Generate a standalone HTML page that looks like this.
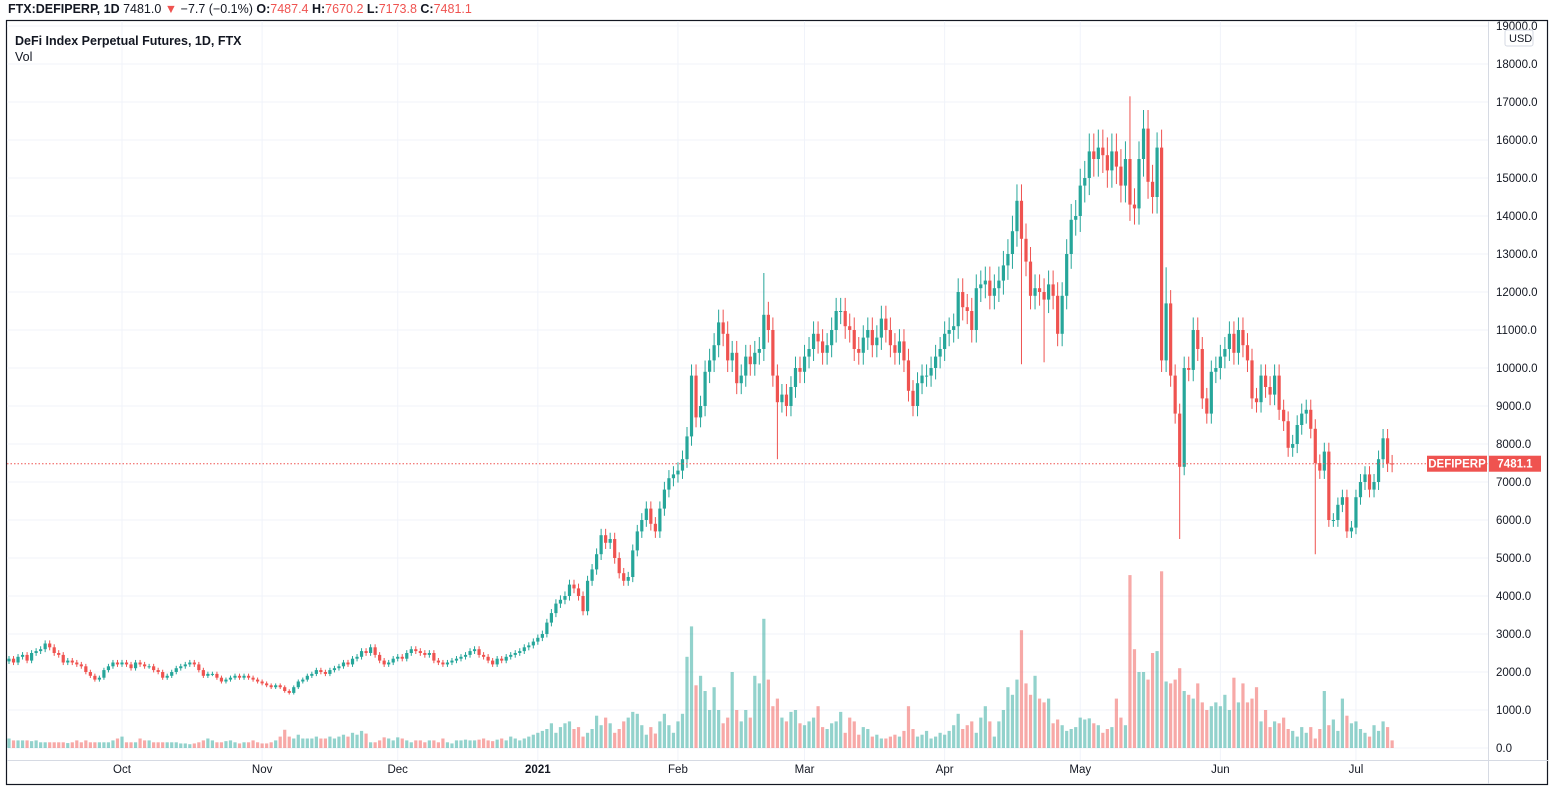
<!DOCTYPE html>
<html><head><meta charset="utf-8"><style>
body{margin:0;background:#fff;width:1560px;height:794px;overflow:hidden;font-family:"Liberation Sans",sans-serif}
#hdr{position:absolute;left:8px;top:2px;font-size:12.5px;color:#131722;font-weight:bold;white-space:nowrap}
#hdr span.n{font-weight:normal}
#hdr .r{color:#ef5350;font-weight:normal}
</style></head><body>
<div id="hdr">FTX:DEFIPERP, 1D <span class="n">7481.0</span><span class="r"> ▼ </span><span class="n">−7.7 (−0.1%)</span> O:<span class="r">7487.4</span> H:<span class="r">7670.2</span> L:<span class="r">7173.8</span> C:<span class="r">7481.1</span></div>
<svg id="c" width="1560" height="794" style="position:absolute;left:0;top:0"></svg>
<script>
const closes=[2350,2250,2400,2450,2300,2500,2550,2600,2750,2650,2500,2450,2250,2300,2250,2200,2150,2000,1900,1800,1850,2050,2150,2250,2200,
2250,2200,2100,2250,2200,2150,2150,2050,2000,1850,1900,2000,2100,2150,2200,2250,2200,2050,1900,1950,1950,1850,1750,1800,1850,1900,1850,1900,1850,1800,1750,
1700,1650,1600,1650,1600,1500,1450,1600,1750,1800,1900,1950,2050,2000,1950,2050,2100,2150,2250,2200,2350,2400,2550,2500,2650,2450,2300,2200,2250,2350,
2400,2350,2500,2600,2550,2500,2450,2500,2300,2250,2200,2250,2300,2350,2400,2450,2550,2600,2450,2400,2300,2200,2350,2300,2400,2450,2500,2550,2650,2700,2800,
2900,3000,3300,3550,3800,3900,4000,4300,4200,4000,3600,4400,4700,5100,5600,5400,5500,5000,4600,4400,4500,5200,5700,6000,6300,5900,5700,6300,6800,7100,7200,
7300,7600,8200,9800,8700,9000,9900,10200,10600,11200,10900,10200,10400,9600,9800,10300,10100,10400,10500,11400,11000,9800,9100,9300,9000,9500,10000,9900,
10300,10500,10900,10700,10400,10600,11000,11500,11500,11100,11000,10500,10400,10800,11000,10600,10800,11300,11000,10600,10400,10700,10200,9400,9000,9600,9800,9800,10000,10300,10500,
10900,11000,11100,12000,11600,11500,11000,12100,12200,12300,11900,12100,12300,12700,13000,13600,14400,13400,12800,11900,12100,12000,11800,12200,11900,10900,11900,13000,13900,14000,
14800,15000,15700,15500,15800,15600,15200,15700,15300,14800,15500,14300,14200,15500,16300,14900,14500,15800,10200,11700,9800,8800,7400,10000,9950,11000,10500,9200,8800,9900,10000,
10300,10500,10900,10400,11000,10600,10200,9200,9100,9800,9500,9300,9800,8900,8600,7900,8000,8500,8800,8900,8400,7500,7300,7800,6000,6000,6400,6600,5700,5800,
6600,7000,7200,6800,7000,7600,8150,7487.4,7481.1];
const volumes=[250,200,200,200,200,180,200,150,150,150,150,150,150,130,150,200,150,200,150,150,150,150,150,200,250,
300,150,150,150,250,200,200,150,150,150,150,150,150,120,120,100,120,150,200,250,200,150,150,180,200,150,120,150,150,200,150,
120,120,150,200,300,480,300,250,350,250,250,250,300,250,250,300,250,300,350,300,400,350,450,380,150,150,200,280,250,200,
280,250,200,150,200,200,150,200,200,150,250,150,120,200,200,220,200,200,220,250,200,180,220,250,200,300,250,200,250,300,350,
400,450,500,650,400,550,650,700,500,550,300,400,500,850,600,800,650,400,500,700,800,950,900,600,350,550,380,700,900,600,400,
700,900,2400,3200,1650,1900,1500,1000,1600,1000,650,800,2000,1000,700,1000,800,1900,1700,3400,1800,1100,1300,800,700,950,1000,650,
600,700,800,1100,550,500,650,700,950,400,800,700,350,550,500,300,350,250,250,300,350,300,450,1100,500,300,350,450,250,300,400,
350,450,600,900,500,600,700,400,800,1100,700,300,700,1000,1600,1400,1800,3100,1700,1400,1900,1300,1200,1300,650,750,600,450,500,550,
800,750,780,650,600,400,500,550,1300,800,600,4550,2600,2000,2000,1800,2500,2550,4650,1750,1700,1800,2100,1500,1400,1300,1700,1200,1000,1100,1200,
1100,1400,1000,1850,1200,1700,1200,1300,1600,700,1000,550,700,650,800,500,450,300,550,400,550,250,500,1500,600,750,450,1300,850,650,
700,500,400,300,600,450,700,550,200];
const wickIdx=[167,170,248,256,259,289,224,229,254,265];
const wickHigh=[12500,0,17150,12650,0,0,0,0,16200,0];
const wickLow=[0,7600,0,0,5500,5100,10100,10150,0,0];
const priceTicks=[0,1000,2000,3000,4000,5000,6000,7000,8000,9000,10000,11000,12000,13000,14000,15000,16000,17000,18000,19000];
const monthLabels=["Oct","Nov","Dec","2021","Feb","Mar","Apr","May","Jun","Jul"];
const monthIdx=[25,56,86,117,148,176,207,237,268,298];

const NS="http://www.w3.org/2000/svg",svg=document.getElementById('c');
const X=i=>9+i*4.52, Y=p=>748-p*0.038;
function mk(t,a,p){const e=document.createElementNS(NS,t);for(const k in a)e.setAttribute(k,a[k]);(p||svg).appendChild(e);return e;}
mk('rect',{x:6.5,y:20.5,width:1541,height:764,fill:'none',stroke:'#131722','stroke-width':1.2});
const grid=mk('g',{});
priceTicks.forEach(p=>{mk('line',{x1:7,x2:1488,y1:Y(p),y2:Y(p),stroke:'#f0f3fa'},grid);});
monthIdx.forEach(i=>{mk('line',{x1:X(i),x2:X(i),y1:21,y2:760,stroke:'#f0f3fa'},grid);});
mk('line',{x1:1488.5,x2:1488.5,y1:21,y2:784,stroke:'#d6dae3'});
mk('line',{x1:7,x2:1548,y1:760.5,y2:760.5,stroke:'#d6dae3'});
const ya=mk('g',{});
priceTicks.forEach(p=>{const t=mk('text',{x:1496,y:Y(p)+4,'font-size':11.5,fill:'#131722'},ya);t.textContent=p.toFixed(1);});
const ur=mk('rect',{x:1505,y:30,width:28,height:16,fill:'#fff',stroke:'#d6dae3',rx:2});
const ut=mk('text',{x:1509,y:42,'font-size':11,fill:'#131722'});ut.textContent='USD';


const xa=mk('g',{});
monthLabels.forEach((m,k)=>{const t=mk('text',{x:X(monthIdx[k]),y:773,'font-size':11.5,'text-anchor':'middle',fill:'#131722','font-weight':m==='2021'?'bold':'normal'},xa);t.textContent=m;});
const tt=mk('text',{x:15,y:45,'font-size':12.5,'font-weight':'bold',fill:'#131722'});tt.textContent='DeFi Index Perpetual Futures, 1D, FTX';


const vl=mk('text',{x:15,y:61,'font-size':12.5,fill:'#131722'});vl.textContent='Vol';


const G='#26a69a',R='#ef5350';
const vg=mk('g',{});
const cg=mk('g',{});
closes.forEach((c,i)=>{
  const o=i===0?c*0.97:closes[i-1];
  const col=c>=o?G:R;
  let h=Math.max(o,c)*1.03,l=Math.min(o,c)*0.97;
  const w=wickIdx.indexOf(i);
  if(w>=0){if(wickHigh[w])h=wickHigh[w];if(wickLow[w])l=wickLow[w];}
  const x=X(i);
  const v=mk('rect',{x:x-1.6,y:Y(volumes[i]),width:3.2,height:volumes[i]*0.038,fill:col,opacity:0.5},vg);
  
  
  const g=mk('g',{},cg);
  
  
  mk('line',{x1:x,x2:x,y1:Y(h),y2:Y(l),stroke:col,'stroke-width':1},g);
  mk('rect',{x:x-1.6,y:Y(Math.max(o,c)),width:3.2,height:Math.max(1,Math.abs(o-c)*0.038),fill:col},g);
});
const last=closes[closes.length-1];
mk('line',{x1:7,x2:1488,y1:Y(last),y2:Y(last),stroke:R,'stroke-dasharray':'1.5 2','stroke-width':1});
const lb=mk('g',{});
mk('rect',{x:1427,y:Y(last)-8,width:60,height:16,fill:R},lb);
mk('rect',{x:1489,y:Y(last)-8,width:52,height:16,fill:R},lb);
const t1=mk('text',{x:1457,y:Y(last)+4,'font-size':11.5,'font-weight':'bold','text-anchor':'middle',fill:'#fff'},lb);t1.textContent='DEFIPERP';
const t2=mk('text',{x:1515,y:Y(last)+4,'font-size':11.5,'font-weight':'bold','text-anchor':'middle',fill:'#fff'},lb);t2.textContent=last.toFixed(1);
</script>
</body></html>
